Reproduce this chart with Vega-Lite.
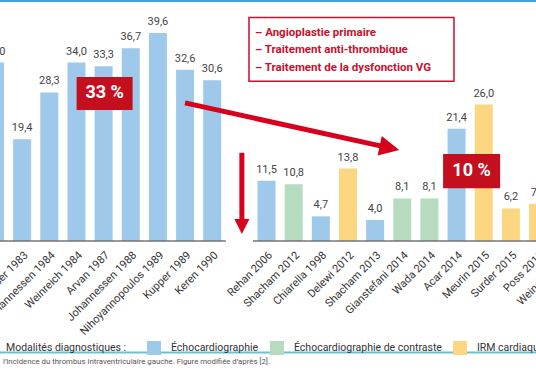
{
  "$schema": "https://vega.github.io/schema/vega-lite/v6.json",
  "width": 536,
  "height": 210,
  "autosize": {"type": "none"},
  "padding": {"left": 0, "top": 31, "right": 0, "bottom": 145},
  "background": "white",
  "config": {
    "view": {"stroke": null},
    "font": "Roboto",
    "locale": {"number": {"decimal": ",", "thousands": " ", "grouping": [3], "currency": ["", " €"]}}
  },
  "datasets": {
    "etudes": [
      {"etude": "Asinger 1981", "pct": 34.0, "modalite": "Échocardiographie"},
      {"etude": "Visser 1983", "pct": 19.4, "modalite": "Échocardiographie"},
      {"etude": "Johannessen 1984", "pct": 28.3, "modalite": "Échocardiographie"},
      {"etude": "Weinreich 1984", "pct": 34.0, "modalite": "Échocardiographie"},
      {"etude": "Arvan 1987", "pct": 33.3, "modalite": "Échocardiographie"},
      {"etude": "Johannessen 1988", "pct": 36.7, "modalite": "Échocardiographie"},
      {"etude": "Nihoyannopoulos 1989", "pct": 39.6, "modalite": "Échocardiographie"},
      {"etude": "Kupper 1989", "pct": 32.6, "modalite": "Échocardiographie"},
      {"etude": "Keren 1990", "pct": 30.6, "modalite": "Échocardiographie"},
      {"etude": "Rehan 2006", "pct": 11.5, "modalite": "Échocardiographie"},
      {"etude": "Shacham 2012", "pct": 10.8, "modalite": "Échocardiographie de contraste"},
      {"etude": "Chiarella 1998", "pct": 4.7, "modalite": "Échocardiographie"},
      {"etude": "Delewi 2012", "pct": 13.8, "modalite": "IRM cardiaque"},
      {"etude": "Shacham 2013", "pct": 4.0, "modalite": "Échocardiographie"},
      {"etude": "Gianstefani 2014", "pct": 8.1, "modalite": "Échocardiographie de contraste"},
      {"etude": "Wada 2014", "pct": 8.1, "modalite": "Échocardiographie de contraste"},
      {"etude": "Acar 2014", "pct": 21.4, "modalite": "Échocardiographie"},
      {"etude": "Meurin 2015", "pct": 26.0, "modalite": "IRM cardiaque"},
      {"etude": "Surder 2015", "pct": 6.2, "modalite": "IRM cardiaque"},
      {"etude": "Poss 2015", "pct": 7.1, "modalite": "IRM cardiaque"},
      {"etude": "Weinsaft 2016", "pct": 6.0, "modalite": "IRM cardiaque"}
    ]
  },
  "layer": [
    {"data": {"name": "etudes"},
     "mark": {"type": "bar"},
     "encoding": {
       "x": {
         "field": "etude", "type": "nominal", "sort": null,
         "scale": {
           "domain": ["Asinger 1981","Visser 1983","Johannessen 1984","Weinreich 1984","Arvan 1987","Johannessen 1988","Nihoyannopoulos 1989","Kupper 1989","Keren 1990"," ","Rehan 2006","Shacham 2012","Chiarella 1998","Delewi 2012","Shacham 2013","Gianstefani 2014","Wada 2014","Acar 2014","Meurin 2015","Surder 2015","Poss 2015","Weinsaft 2016"],
           "range": [-14, 574.2],
           "paddingInner": 0.337,
           "paddingOuter": 0
         },
         "axis": {
           "title": null, "domain": false, "ticks": false, "labelAngle": -45,
           "labelFontSize": 11, "labelColor": "#333333", "labelPadding": 8,
           "labelOverlap": false, "labelBound": false
         }
       },
       "y": {"field": "pct", "type": "quantitative", "scale": {"domain": [0, 40], "nice": false}, "axis": null},
       "color": {
         "field": "modalite", "type": "nominal",
         "scale": {"domain": ["Échocardiographie", "Échocardiographie de contraste", "IRM cardiaque"],
                   "range": ["#9fc9eb", "#b6dbbf", "#fdd682"]},
         "legend": {
           "orient": "none", "legendX": 6, "legendY": 310, "direction": "horizontal",
           "title": "Modalités diagnostiques :", "titleOrient": "left", "titleFontSize": 10.5,
           "titleFontWeight": "normal", "titleColor": "#333333", "titlePadding": 20,
           "symbolType": "square", "symbolSize": 196, "symbolStrokeWidth": 0, "symbolOpacity": 1,
           "labelFontSize": 10.5, "labelColor": "#333333", "labelOffset": 10, "columnPadding": 11,
           "labelLimit": 300
         }
       }
     }},
    {"data": {"name": "etudes"},
     "mark": {"type": "tick", "color": "#6b6b6b", "thickness": 2, "size": 27.2},
     "encoding": {"x": {"field": "etude", "type": "nominal"}, "y": {"datum": 0, "type": "quantitative"}}},
    {"data": {"name": "etudes"},
     "mark": {"type": "text", "baseline": "alphabetic", "dy": -8, "fontSize": 11, "color": "#444444"},
     "encoding": {"x": {"field": "etude", "type": "nominal"}, "y": {"field": "pct", "type": "quantitative"},
                  "text": {"field": "pct", "type": "quantitative", "format": ".1f"}}},
    {"data": {"values": [{"a": 1}]},
     "mark": {"type": "rule", "color": "#d7001d", "strokeWidth": 5, "x2Offset": -12.8},
     "encoding": {"x": {"datum": "Kupper 1989", "type": "nominal"}, "x2": {"datum": "Gianstefani 2014"},
                  "y": {"datum": 26.3, "type": "quantitative"}, "y2": {"datum": 17.73}}},
    {"data": {"values": [{"a": 1}]},
     "mark": {"type": "point", "shape": "M-1,-1L1,0L-1,1Z", "size": 400, "angle": 12, "filled": true, "opacity": 1, "color": "#d7001d", "xOffset": -12.8},
     "encoding": {"x": {"datum": "Gianstefani 2014", "type": "nominal"}, "y": {"datum": 17.73, "type": "quantitative"}}},
    {"data": {"values": [{"a": 1}]},
     "mark": {"type": "rule", "color": "#d7001d", "strokeWidth": 5, "xOffset": 2.5},
     "encoding": {"x": {"datum": " ", "type": "nominal"}, "y": {"datum": 16.8, "type": "quantitative"}, "y2": {"datum": 3.6}}},
    {"data": {"values": [{"a": 1}]},
     "mark": {"type": "point", "shape": "M-1,-1L1,-1L0,1Z", "size": 225, "filled": true, "opacity": 1, "color": "#d7001d", "xOffset": 2.5},
     "encoding": {"x": {"datum": " ", "type": "nominal"}, "y": {"datum": 2.76, "type": "quantitative"}}},
    {"data": {"values": [{"a": 1}]},
     "mark": {"type": "point", "shape": "M-1,-0.59L1,-0.59L1,0.59L-1,0.59Z", "size": 3136, "filled": true, "opacity": 1, "color": "#c40f1f", "xOffset": 1},
     "encoding": {"x": {"datum": "Arvan 1987", "type": "nominal"}, "y": {"datum": 28.1, "type": "quantitative"}}},
    {"data": {"values": [{"a": 1}]},
     "mark": {"type": "text", "text": "33 %", "fontSize": 18, "fontWeight": "bold", "color": "white", "xOffset": 1, "baseline": "middle"},
     "encoding": {"x": {"datum": "Arvan 1987", "type": "nominal"}, "y": {"datum": 28.1, "type": "quantitative"}}},
    {"data": {"values": [{"a": 1}]},
     "mark": {"type": "point", "shape": "M-1,-0.6L1,-0.6L1,0.6L-1,0.6Z", "size": 3249, "filled": true, "opacity": 1, "color": "#c40f1f", "xOffset": 15},
     "encoding": {"x": {"datum": "Acar 2014", "type": "nominal"}, "y": {"datum": 13.3, "type": "quantitative"}}},
    {"data": {"values": [{"a": 1}]},
     "mark": {"type": "text", "text": "10 %", "fontSize": 18, "fontWeight": "bold", "color": "white", "xOffset": 15, "baseline": "middle"},
     "encoding": {"x": {"datum": "Acar 2014", "type": "nominal"}, "y": {"datum": 13.3, "type": "quantitative"}}},
    {"data": {"values": [{"a": 1}]},
     "mark": {"type": "point", "shape": "M-1,-0.312L1,-0.312L1,0.312L-1,0.312Z", "size": 42025, "filled": true, "opacity": 1, "fill": "white", "stroke": "#c8102e", "strokeWidth": 1.5, "strokeOpacity": 1, "xOffset": 3.5},
     "encoding": {"x": {"datum": "Delewi 2012", "type": "nominal"}, "y": {"datum": 36.5, "type": "quantitative"}}},
    {"data": {"values": [{"a": 1}]},
     "mark": {"type": "text", "text": "– Angioplastie primaire", "align": "left", "baseline": "middle", "fontSize": 11.5, "fontWeight": "bold", "color": "#c8102e", "xOffset": -11.5},
     "encoding": {"x": {"datum": "Rehan 2006", "type": "nominal"}, "y": {"datum": 39.6, "type": "quantitative"}}},
    {"data": {"values": [{"a": 1}]},
     "mark": {"type": "text", "text": "– Traitement anti-thrombique", "align": "left", "baseline": "middle", "fontSize": 11.5, "fontWeight": "bold", "color": "#c8102e", "xOffset": -11.5},
     "encoding": {"x": {"datum": "Rehan 2006", "type": "nominal"}, "y": {"datum": 36.3, "type": "quantitative"}}},
    {"data": {"values": [{"a": 1}]},
     "mark": {"type": "text", "text": "– Traitement de la dysfonction VG", "align": "left", "baseline": "middle", "fontSize": 11.5, "fontWeight": "bold", "color": "#c8102e", "xOffset": -11.5},
     "encoding": {"x": {"datum": "Rehan 2006", "type": "nominal"}, "y": {"datum": 33.0, "type": "quantitative"}}},
    {"data": {"values": [{"a": 1}]},
     "mark": {"type": "rule", "color": "#3aa6dc", "strokeWidth": 2},
     "encoding": {"y": {"datum": 45.71, "type": "quantitative"}}},
    {"data": {"values": [{"a": 1}]},
     "mark": {"type": "rule", "color": "#6cc0d6", "strokeWidth": 2},
     "encoding": {"y": {"datum": -21.24, "type": "quantitative"}}},
    {"data": {"values": [{"a": 1}]},
     "mark": {"type": "text", "text": "l’incidence du thrombus intraventriculaire gauche. Figure modifiée d’après [2].", "align": "left", "baseline": "middle", "fontSize": 7.8, "color": "#555555", "xOffset": 8},
     "encoding": {"x": {"datum": "Asinger 1981", "type": "nominal"}, "y": {"datum": -23.1, "type": "quantitative"}}}
  ]
}
